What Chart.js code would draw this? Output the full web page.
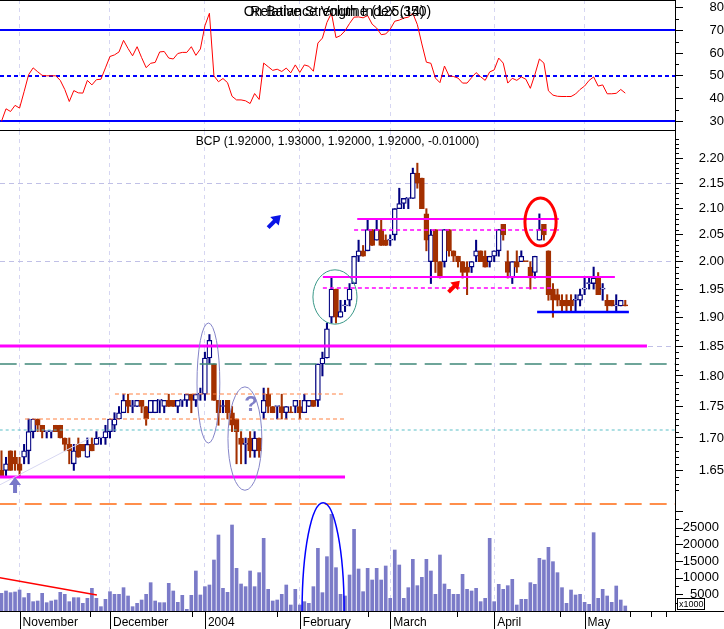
<!DOCTYPE html>
<html>
<head>
<meta charset="utf-8">
<script src="https://cdn.jsdelivr.net/npm/chart.js@4.4.1/dist/chart.umd.min.js"></script>
<style>
  html, body { margin: 0; padding: 0; background: #fff; }
  #wrap { position: relative; width: 724px; height: 629px; overflow: hidden; }
  canvas { position: absolute; left: 0; }
  #rsiChart { top: 0; }
  #priceChart { top: 131px; }
</style>
</head>
<body>
<div id="wrap">
  <canvas id="rsiChart" width="724" height="131"></canvas>
  <canvas id="priceChart" width="724" height="498"></canvas>
</div>
<script>
// trading days from 28 Oct 2003 to 14 May 2004, one entry per day
const monthStarts = [4, 24, 45, 66, 86, 109, 129];
const monthNames = ['November', 'December', '2004', 'February', 'March', 'April', 'May'];
const minorTicks = [19.6, 42.1, 61, 81.1, 100.8, 123.6, 139, 143.7, 147];

const opens = [
  1.65, 1.65, 1.68, 1.67, 1.66, 1.67, 1.68, 1.71, 1.73, 1.72,
  1.71, 1.71, 1.72, 1.72, 1.70, 1.69, 1.66, 1.69, 1.69, 1.67,
  1.69, 1.69, 1.70, 1.70, 1.71, 1.72, 1.73, 1.74, 1.76, 1.75,
  1.75, 1.76, 1.75, 1.74, 1.74, 1.76, 1.75, 1.76, 1.76, 1.75,
  1.76, 1.76, 1.77, 1.76, 1.77, 1.77, 1.83, 1.82, 1.76, 1.75,
  1.76, 1.74, 1.73, 1.70, 1.69, 1.70, 1.68, 1.70, 1.74, 1.77,
  1.75, 1.75, 1.75, 1.74, 1.74, 1.75, 1.75, 1.74, 1.75, 1.76,
  1.76, 1.82, 1.83, 1.90, 1.95, 1.90, 1.92, 1.93, 1.96, 2.01,
  2.02, 2.02, 2.06, 2.04, 2.06, 2.04, 2.04, 2.05, 2.10, 2.11,
  2.12, 2.12, 2.17, 2.16, 2.09, 2.00, 2.06, 2.00, 2.00, 2.06,
  2.02, 2.01, 2.00, 1.99, 1.99, 2.01, 2.02, 2.01, 2.00, 2.01,
  2.02, 2.07, 2.00, 1.97, 2.00, 2.00, 2.00, 1.99, 1.98, 2.04,
  2.07, 2.02, 1.95, 1.94, 1.93, 1.93, 1.93, 1.93, 1.93, 1.95,
  1.96, 1.96, 1.97, 1.95, 1.93, 1.93, 1.92, 1.92, 1.92
];
const highs = [
  1.68, 1.67, 1.68, 1.68, 1.67, 1.69, 1.73, 1.73, 1.73, 1.72,
  1.71, 1.71, 1.72, 1.72, 1.70, 1.70, 1.69, 1.70, 1.69, 1.70,
  1.70, 1.71, 1.70, 1.72, 1.73, 1.74, 1.75, 1.77, 1.77, 1.76,
  1.76, 1.76, 1.75, 1.76, 1.76, 1.76, 1.76, 1.77, 1.76, 1.76,
  1.76, 1.77, 1.77, 1.77, 1.78, 1.84, 1.87, 1.82, 1.76, 1.76,
  1.76, 1.75, 1.73, 1.71, 1.70, 1.71, 1.71, 1.70, 1.78, 1.78,
  1.75, 1.75, 1.77, 1.75, 1.75, 1.76, 1.76, 1.77, 1.76, 1.76,
  1.82, 1.84, 1.89, 1.97, 1.95, 1.93, 1.93, 1.96, 2.01, 2.04,
  2.03, 2.08, 2.06, 2.08, 2.08, 2.05, 2.05, 2.10, 2.14, 2.12,
  2.12, 2.18, 2.19, 2.16, 2.10, 2.06, 2.06, 2.00, 2.06, 2.06,
  2.02, 2.01, 2.00, 2.00, 2.00, 2.04, 2.02, 2.02, 2.01, 2.02,
  2.06, 2.07, 2.02, 2.00, 2.02, 2.02, 2.00, 2.00, 2.01, 2.09,
  2.07, 2.02, 1.96, 1.95, 1.94, 1.94, 1.94, 1.94, 1.95, 1.97,
  1.97, 1.99, 1.98, 1.96, 1.94, 1.93, 1.94, 1.93, 1.93
];
const lows = [
  1.64, 1.64, 1.65, 1.65, 1.64, 1.66, 1.66, 1.70, 1.71, 1.70,
  1.70, 1.70, 1.71, 1.70, 1.68, 1.66, 1.65, 1.67, 1.68, 1.67,
  1.68, 1.69, 1.69, 1.69, 1.70, 1.71, 1.73, 1.74, 1.74, 1.74,
  1.75, 1.74, 1.72, 1.74, 1.74, 1.74, 1.74, 1.75, 1.75, 1.74,
  1.75, 1.75, 1.74, 1.75, 1.76, 1.76, 1.82, 1.76, 1.72, 1.74,
  1.73, 1.71, 1.66, 1.66, 1.66, 1.67, 1.67, 1.67, 1.73, 1.74,
  1.74, 1.73, 1.73, 1.73, 1.74, 1.74, 1.73, 1.74, 1.75, 1.75,
  1.75, 1.80, 1.83, 1.89, 1.89, 1.90, 1.91, 1.92, 1.96, 2.00,
  2.01, 2.02, 2.03, 2.04, 2.03, 2.03, 2.03, 2.04, 2.10, 2.10,
  2.10, 2.12, 2.14, 2.10, 2.02, 1.96, 1.98, 1.97, 1.99, 2.01,
  2.00, 1.99, 1.97, 1.94, 1.98, 2.00, 2.00, 1.99, 1.99, 2.00,
  2.01, 2.04, 1.97, 1.96, 1.98, 2.00, 2.00, 1.95, 1.97, 2.04,
  2.04, 1.93, 1.90, 1.92, 1.91, 1.91, 1.91, 1.91, 1.92, 1.94,
  1.95, 1.95, 1.94, 1.93, 1.91, 1.92, 1.91, 1.92, 1.92
];
const closes = [
  1.64, 1.66, 1.65, 1.66, 1.65, 1.68, 1.71, 1.73, 1.72, 1.71,
  1.71, 1.71, 1.71, 1.70, 1.69, 1.68, 1.68, 1.67, 1.68, 1.69,
  1.68, 1.70, 1.70, 1.71, 1.73, 1.73, 1.74, 1.76, 1.75, 1.75,
  1.76, 1.75, 1.73, 1.76, 1.76, 1.76, 1.76, 1.75, 1.75, 1.76,
  1.76, 1.77, 1.76, 1.77, 1.77, 1.83, 1.86, 1.76, 1.74, 1.75,
  1.74, 1.72, 1.71, 1.69, 1.69, 1.68, 1.70, 1.68, 1.76, 1.75,
  1.74, 1.75, 1.74, 1.75, 1.74, 1.76, 1.74, 1.76, 1.76, 1.75,
  1.82, 1.83, 1.88, 1.95, 1.90, 1.91, 1.92, 1.95, 2.01, 2.02,
  2.01, 2.06, 2.03, 2.06, 2.03, 2.03, 2.04, 2.10, 2.11, 2.12,
  2.12, 2.17, 2.15, 2.10, 2.04, 2.05, 2.00, 1.97, 2.06, 2.02,
  2.01, 2.00, 1.98, 1.98, 2.00, 2.02, 2.00, 1.99, 2.01, 2.02,
  2.06, 2.05, 1.98, 2.00, 1.99, 2.01, 2.00, 1.97, 2.01, 2.06,
  2.05, 1.94, 1.93, 1.93, 1.92, 1.92, 1.92, 1.93, 1.94, 1.95,
  1.96, 1.97, 1.94, 1.95, 1.92, 1.92, 1.92, 1.93, 1.92
];
// volume in thousands of shares
const volumes = [
  5300, 6000, 5500, 5700, 6300, 4000, 5300, 2800, 3000, 5300,
  2500, 3000, 3300, 5600, 5000, 2800, 4000, 4000, 2300, 3800,
  6800, 3800, 1300, 3500, 5800, 5000, 5000, 7000, 4500, 1300,
  2300, 3300, 5000, 8500, 3000, 2500, 2500, 8300, 6000, 2600,
  4700, 500, 4700, 12000, 4800, 7300, 7800, 15300, 22800, 6800,
  5600, 25800, 12800, 8100, 7300, 12000, 7300, 11500, 21800, 6500,
  3000, 3300, 5000, 7800, 1800, 6500, 1800, 2800, 2300, 7300,
  18800, 5500, 16300, 29000, 13000, 5000, 4500, 10800, 24500, 12600,
  5800, 12800, 9300, 12800, 9300, 13500, 3800, 18300, 13800, 3800,
  7000, 15500, 7600, 10100, 15500, 12000, 5000, 16800, 8100, 6500,
  5000, 5000, 11000, 6500, 6000, 6800, 2800, 3800, 21800, 2800,
  8000, 6500, 7600, 9500, 1800, 3500, 3500, 8500, 8000, 15800,
  15300, 19100, 14800, 11500, 7000, 2300, 6300, 4800, 5000, 2600,
  2000, 23500, 3800, 6500, 4500, 2600, 7500, 3300, 1500
];
const rsi = [
  30, 35.5, 34.3, 37, 35.8, 43, 50.5, 53.5, 51.8, 50.2,
  50, 50, 50, 48, 44, 38.7, 43.5, 42.5, 42.4, 48,
  46, 48.3, 48.5, 53.5, 58.5, 59.2, 60.5, 65.6, 62, 58.8,
  62.8, 58, 53.6, 55.5, 55.9, 60.5, 60.7, 57.8, 57.4, 59.8,
  60.3, 60.3, 62.8, 59, 61.8, 72, 77.5, 50, 47.4, 48.8,
  47, 41, 39.4, 39.4, 39, 37.8, 42.2, 39.6, 55.6, 54,
  52.4, 52.9, 51.9, 53.4, 51.3, 54.8, 51.5, 54.8, 54.2, 52,
  64.4, 66.6, 73.5, 77.6, 66.8, 67.7, 69.8, 73, 75.8, 75.9,
  75.5, 76.5, 72.7, 71, 68.1, 68.4, 70.5, 74, 74.5, 75.4,
  75.8, 77.5, 72.5, 64, 56, 55.5, 49, 47, 54.3, 50,
  49.7, 49, 46.8, 46.8, 49.2, 51.4, 49.6, 48, 51.7, 52.6,
  57.8, 55.6, 46.8, 48.9, 48, 49.5, 48.5, 44.5, 50.5, 57.4,
  55.6, 43.4, 41.5, 41, 40.9, 40.9, 40.9, 42, 44, 45.5,
  48, 49.5, 45.5, 46, 42.1, 42.1, 42.3, 44, 42.4
];

const priceTicks = [1.65, 1.70, 1.75, 1.80, 1.85, 1.90, 1.95, 2.00, 2.05, 2.10, 2.15, 2.20];
const priceGrid = [1.85, 2.00, 2.15];
const rsiTicks = [30, 40, 50, 60, 70, 80];
const rsiLevels = [70, 50, 30];
const volTicks = [5000, 10000, 15000, 20000, 25000];

// drawn studies: horizontal levels, ellipses, arrows
const levels = [
  { p: 1.85, from: -0.4, to: 142.8, color: '#ff00ff', w: 3, dash: [] },
  { p: 1.82, from: -0.4, to: 149, color: '#3f8878', w: 1.5, dash: [17, 8] },
  { p: 1.77, from: 25.1, to: 75.8, color: '#ff8040', w: 1, dash: [4, 3] },
  { p: 1.73, from: 5.2, to: 75.8, color: '#ff8040', w: 1, dash: [4, 3] },
  { p: 1.712, from: -0.4, to: 149, color: '#5cc0c8', w: 1, dash: [3, 3] },
  { p: 1.64, from: -0.4, to: 76, color: '#ff00ff', w: 3, dash: [] },
  { p: 1.60, from: -0.4, to: 149, color: '#ff6a10', w: 1.5, dash: [17, 8] },
  { p: 2.08, from: 78.7, to: 123.3, color: '#ff00ff', w: 2, dash: [] },
  { p: 2.06, from: 78, to: 123.3, color: '#ff00ff', w: 1.5, dash: [4, 3] },
  { p: 1.972, from: 71.1, to: 135.7, color: '#ff00ff', w: 2, dash: [] },
  { p: 1.952, from: 71.1, to: 122, color: '#ff00ff', w: 1.5, dash: [4, 3] },
  { p: 1.91, from: 118.5, to: 138.8, color: '#0000ff', w: 2.5, dash: [] }
];
const ellipses = [
  { x: [43.25, 48.3], y: [1.692, 1.890], axis: 'y', color: '#8484c8', w: 1 },
  { x: [50.1, 57.6], y: [1.620, 1.782], axis: 'y', color: '#8484c8', w: 1 },
  { x: [68.9, 78.65], y: [1.888, 1.985], axis: 'y', color: '#3a9888', w: 1 },
  { x: [115.8, 122.7], y: [2.029, 2.121], axis: 'y', color: '#ff0000', w: 3 },
  { x: [66.5, 75.8], y: [-32500, 32500], axis: 'vol', color: '#0000ff', w: 1.5 }
];
const arrows = [
  { x: 61.8, y: 2.088, angle: -Math.PI / 4, len: 18, head: 9, headW: 12, shaft: 4, color: '#0a14e6' },
  { x: 101.4, y: 1.965, angle: -Math.PI / 4, len: 16, head: 8, headW: 11, shaft: 4, color: '#ff0000' },
  { x: 3.0, y: 1.640, angle: -Math.PI / 2, len: 16, head: 8, headW: 12, shaft: 4, color: '#7878c8' }
];
const trendLines = [
  { x: [-0.4, 19.6], y: [1.628, 1.70], axis: 'y', color: '#d8d8f2', w: 1 },
  { x: [-0.4, 21.1], y: [10000, 4800], axis: 'vol', color: '#ff0000', w: 1.5 }
];

const X_MIN = -0.33, X_MAX = 149;
const UP = '#000080', DOWN = '#a33000';

Chart.defaults.font.family = '"Liberation Sans", Arial, sans-serif';
Chart.defaults.font.size = 12;
Chart.defaults.color = '#000';

const isUp = closes.map((c, i) => c > opens[i] || (c === opens[i] && (i === 0 || c >= closes[i - 1])));

function xAxis(showLabels) {
  return {
    type: 'linear', min: X_MIN, max: X_MAX, bounds: 'data', offset: false,
    afterBuildTicks: s => { s.ticks = monthStarts.map(v => ({ value: v })); },
    grid: { color: '#d6d6f2', drawTicks: false, offset: false },
    border: { display: showLabels, color: '#000', dash: [4, 4] },
    ticks: {
      display: showLabels, align: 'start', labelOffset: 3, padding: 4, autoSkip: false, maxRotation: 0,
      font: { size: 12 },
      callback: v => monthNames[monthStarts.indexOf(v)]
    },
    afterFit: s => { s.height = showLabels ? 18 : 0; s.paddingLeft = 0; s.paddingRight = 0; }
  };
}

function px(chart, axis, x, y) {
  return [chart.scales.x.getPixelForValue(x), chart.scales[axis].getPixelForValue(y)];
}

function drawArrow(ctx, tx, ty, a) {
  ctx.save();
  ctx.translate(tx, ty);
  ctx.rotate(a.angle);
  ctx.fillStyle = a.color;
  ctx.beginPath();
  ctx.moveTo(0, 0);
  ctx.lineTo(-a.head, -a.headW / 2);
  ctx.lineTo(-a.head, -a.shaft / 2);
  ctx.lineTo(-a.len, -a.shaft / 2);
  ctx.lineTo(-a.len, a.shaft / 2);
  ctx.lineTo(-a.head, a.shaft / 2);
  ctx.lineTo(-a.head, a.headW / 2);
  ctx.closePath();
  ctx.fill();
  ctx.restore();
}

// RSI panel
const rsiDecor = {
  id: 'rsiDecor',
  beforeDatasetsDraw(chart) {
    const { ctx, chartArea: a, scales: { y } } = chart;
    ctx.save();
    ctx.strokeStyle = '#0000ff';
    ctx.lineWidth = 2;
    rsiLevels.forEach(v => {
      const py = Math.round(y.getPixelForValue(v));
      ctx.setLineDash(v === 50 ? [4, 3] : []);
      ctx.beginPath();
      ctx.moveTo(a.left, py);
      ctx.lineTo(a.right, py);
      ctx.stroke();
    });
    ctx.restore();
  },
  afterDraw(chart) {
    const { ctx, chartArea: a, scales: { y } } = chart;
    ctx.save();
    ctx.strokeStyle = '#000';
    ctx.lineWidth = 1;
    for (let v = 25; v <= 85; v += 5) {
      if (v % 10 === 0 || v < y.min || v > y.max) continue;
      const py = Math.round(y.getPixelForValue(v)) + 0.5;
      ctx.beginPath();
      ctx.moveTo(a.right, py);
      ctx.lineTo(a.right + 4, py);
      ctx.stroke();
    }
    ctx.beginPath();
    ctx.moveTo(0, 0.5); ctx.lineTo(a.right, 0.5);
    ctx.moveTo(0, 130.5); ctx.lineTo(a.right, 130.5);
    ctx.stroke();
    // overlapping study titles, as in the original
    ctx.font = '14px "Liberation Sans", Arial, sans-serif';
    ctx.fillStyle = '#000';
    ctx.textAlign = 'center';
    ctx.textBaseline = 'middle';
    const cx = (a.left + a.right) / 2;
    ctx.fillText('On Balance Volume (125,350)', cx, 12);
    ctx.fillText('Relative Strength Index (14)', cx, 12);
    ctx.restore();
  }
};

new Chart(document.getElementById('rsiChart'), {
  type: 'line',
  data: {
    datasets: [{
      label: 'RSI',
      data: rsi.map((v, i) => ({ x: i, y: v })),
      borderColor: '#ff0000',
      borderWidth: 1,
      pointRadius: 0,
      tension: 0
    }]
  },
  options: {
    responsive: false, animation: false, devicePixelRatio: 1, events: [],
    layout: { padding: 0 },
    plugins: { legend: { display: false }, tooltip: { enabled: false } },
    scales: {
      x: xAxis(false),
      y: {
        type: 'linear', position: 'right', min: 25.73, max: 83.34, bounds: 'data',
        afterBuildTicks: s => { s.ticks = rsiTicks.map(v => ({ value: v })); },
        grid: { drawOnChartArea: false, tickLength: 8, tickColor: '#000' },
        border: { color: '#000' },
        ticks: { crossAlign: 'far', padding: 21, font: { size: 13 }, autoSkip: false },
        afterFit: s => { s.width = 49; s.paddingTop = 0; s.paddingBottom = 0; }
      }
    }
  },
  plugins: [rsiDecor]
});

// price + volume panel
const priceDecor = {
  id: 'priceDecor',
  afterDatasetsDraw(chart) {
    const { ctx, chartArea: a } = chart;
    ctx.save();
    ctx.beginPath();
    ctx.rect(a.left, a.top, a.right - a.left, a.bottom - a.top);
    ctx.clip();
    levels.forEach(l => {
      const [x1, py] = px(chart, 'y', l.from, l.p);
      const [x2] = px(chart, 'y', l.to, l.p);
      ctx.strokeStyle = l.color;
      ctx.lineWidth = l.w;
      ctx.setLineDash(l.dash);
      ctx.beginPath();
      ctx.moveTo(x1, Math.round(py));
      ctx.lineTo(x2, Math.round(py));
      ctx.stroke();
    });
    ctx.setLineDash([]);
    trendLines.forEach(t => {
      const [x1, y1] = px(chart, t.axis, t.x[0], t.y[0]);
      const [x2, y2] = px(chart, t.axis, t.x[1], t.y[1]);
      ctx.strokeStyle = t.color;
      ctx.lineWidth = t.w;
      ctx.beginPath();
      ctx.moveTo(x1, y1);
      ctx.lineTo(x2, y2);
      ctx.stroke();
    });
    ellipses.forEach(e => {
      const [x1, y1] = px(chart, e.axis, e.x[0], e.y[0]);
      const [x2, y2] = px(chart, e.axis, e.x[1], e.y[1]);
      ctx.strokeStyle = e.color;
      ctx.lineWidth = e.w;
      ctx.beginPath();
      ctx.ellipse((x1 + x2) / 2, (y1 + y2) / 2, Math.abs(x2 - x1) / 2, Math.abs(y2 - y1) / 2, 0, 0, Math.PI * 2);
      ctx.stroke();
    });
    arrows.forEach(ar => {
      const [tx, ty] = px(chart, 'y', ar.x, ar.y);
      drawArrow(ctx, tx, ty, ar);
    });
    const [qx, qy] = px(chart, 'y', 55.2, 1.7525);
    ctx.fillStyle = '#8080c8';
    ctx.font = 'bold 22px "Liberation Sans", Arial, sans-serif';
    ctx.textAlign = 'center';
    ctx.textBaseline = 'middle';
    ctx.fillText('?', qx, qy);
    ctx.restore();
  },
  afterDraw(chart) {
    const { ctx, chartArea: a, scales: { x, y, vol } } = chart;
    ctx.save();
    ctx.strokeStyle = '#000';
    ctx.lineWidth = 1;
    ctx.beginPath();
    // minor price ticks
    for (let c = 162; c <= 225; c++) {
      if (c % 5 === 0) continue;
      const py = Math.round(y.getPixelForValue(c / 100)) + 0.5;
      ctx.moveTo(a.right, py); ctx.lineTo(a.right + 4, py);
    }
    // volume ticks
    for (let v = 2500; v <= 30000; v += 2500) {
      const py = Math.round(vol.getPixelForValue(v)) + 0.5;
      ctx.moveTo(a.right, py); ctx.lineTo(a.right + (v % 5000 === 0 ? 8 : 4), py);
    }
    // month separators and week ticks below the axis
    monthStarts.forEach(m => {
      const mx = Math.round(x.getPixelForValue(m)) + 0.5;
      ctx.moveTo(mx, a.bottom); ctx.lineTo(mx, chart.height);
    });
    minorTicks.forEach(m => {
      const mx = Math.round(x.getPixelForValue(m)) + 0.5;
      ctx.moveTo(mx, a.bottom); ctx.lineTo(mx, a.bottom + 6);
    });
    ctx.moveTo(a.right, a.bottom + 0.5); ctx.lineTo(chart.width, a.bottom + 0.5);
    ctx.stroke();

    ctx.fillStyle = '#000';
    ctx.font = '13px "Liberation Sans", Arial, sans-serif';
    ctx.textAlign = 'right';
    ctx.textBaseline = 'middle';
    volTicks.forEach(v => ctx.fillText(String(v), 719, vol.getPixelForValue(v)));

    ctx.fillStyle = '#fff';
    ctx.fillRect(677, 467, 27, 11);
    ctx.strokeRect(677.5, 467.5, 27, 11);
    ctx.fillStyle = '#000';
    ctx.font = '9px "Liberation Sans", Arial, sans-serif';
    ctx.textAlign = 'left';
    ctx.fillText('x1000', 679, 473.5);

    const n = closes.length - 1;
    const f = v => v.toFixed(5);
    ctx.font = '12px "Liberation Sans", Arial, sans-serif';
    ctx.textAlign = 'center';
    ctx.fillText('BCP (' + [opens[n], highs[n], lows[n], closes[n], closes[n] - closes[n - 1]].map(f).join(', ') + ')',
      (a.left + a.right) / 2, 11);
    ctx.restore();
  }
};

new Chart(document.getElementById('priceChart'), {
  type: 'bar',
  data: {
    datasets: [
      {
        label: 'Body',
        data: opens.map((o, i) => ({ x: i, y: [o, closes[i]] })),
        backgroundColor: isUp.map(u => u ? '#ffffff' : DOWN),
        borderColor: isUp.map(u => u ? UP : DOWN),
        borderWidth: 1.3,
        borderSkipped: false,
        barThickness: 5,
        minBarLength: 1,
        grouped: false,
        yAxisID: 'y',
        order: 0
      },
      {
        label: 'Range',
        data: highs.map((h, i) => ({ x: i, y: [lows[i], h] })),
        backgroundColor: isUp.map(u => u ? UP : DOWN),
        borderWidth: 0,
        barThickness: 1.4,
        grouped: false,
        yAxisID: 'y',
        order: 1
      },
      {
        label: 'Volume',
        data: volumes.map((v, i) => ({ x: i, y: v })),
        backgroundColor: '#7b7bc8',
        borderWidth: 0,
        barThickness: 3,
        grouped: false,
        yAxisID: 'vol',
        order: 2
      }
    ]
  },
  options: {
    responsive: false, animation: false, devicePixelRatio: 1, events: [],
    layout: { padding: 0 },
    plugins: { legend: { display: false }, tooltip: { enabled: false } },
    scales: {
      x: xAxis(true),
      y: {
        type: 'logarithmic', position: 'right', min: 1.4494, max: 2.2559, bounds: 'data',
        afterBuildTicks: s => { s.ticks = priceTicks.map(v => ({ value: v })); },
        grid: {
          color: c => priceGrid.some(g => Math.abs(g - c.tick.value) < 1e-6) ? '#c0c0e6' : 'rgba(0,0,0,0)',
          tickLength: 8, tickColor: '#000'
        },
        border: { color: '#000', dash: [5, 4] },
        ticks: { crossAlign: 'far', padding: 11, font: { size: 13 }, autoSkip: false, callback: v => v.toFixed(2) },
        afterFit: s => { s.width = 49; s.paddingTop = 0; s.paddingBottom = 0; }
      },
      vol: {
        type: 'linear', axis: 'y', position: 'left', display: false, min: 0, max: 144000, bounds: 'data'
      }
    }
  },
  plugins: [priceDecor]
});
</script>
</body>
</html>
